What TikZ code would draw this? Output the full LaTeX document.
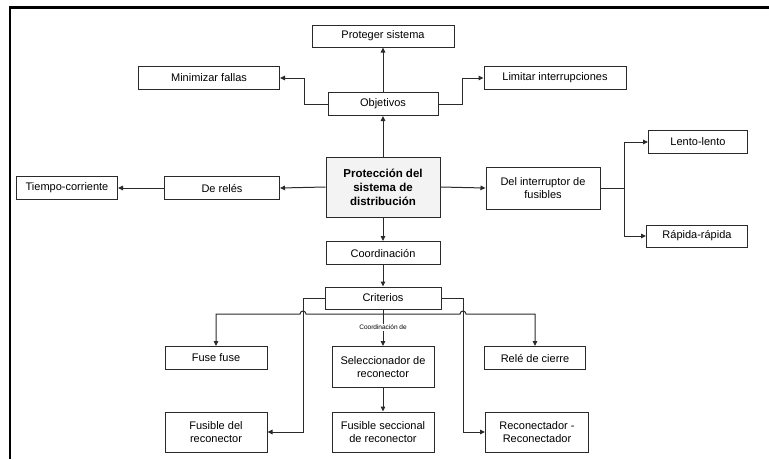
\documentclass[tikz,border=0pt]{standalone}
\usepackage{fontspec}
\setmainfont{Liberation Sans}
\usetikzlibrary{arrows.meta,shadows}
\definecolor{ink}{HTML}{2A2A2A}
\definecolor{mainfill}{HTML}{F3F3F3}
\tikzset{
  box/.style={draw=ink, line width=1pt, fill=white, inner sep=1pt, align=center,
    font=\fontsize{11}{13}\selectfont, text=black,
    drop shadow={shadow xshift=0.7pt, shadow yshift=-0.7pt, fill=gray!55, opacity=1}},
  conn/.style={draw=ink, line width=1pt},
  arr/.style={conn, -{Triangle[length=5pt,width=4.5pt]}},
}
\begin{document}
\begin{tikzpicture}[x=1pt, y=-1pt]
\useasboundingbox (0,0) rectangle (769,459);
% frame
\draw[line width=2.6pt, black] (10,459) -- (10,7.5) -- (769,7.5);

% objectives
\node[box, minimum width=142pt, minimum height=22pt] (prot) at (383,36) {Proteger sistema};
\node[box, minimum width=141pt, minimum height=23pt] (min)  at (209,78) {Minimizar fallas};
\node[box, minimum width=142pt, minimum height=23pt] (lim)  at (555,78) {Limitar interrupciones};
\node[box, minimum width=110pt, minimum height=23pt] (obj)  at (383,104) {Objetivos};

% central node
\node[box, fill=mainfill, minimum width=114pt, minimum height=60pt,
      font=\fontsize{11.5}{14}\selectfont\bfseries] (main) at (383,187)
      {Protección del\\sistema de\\distribución};

% relays side
\node[box, minimum width=115pt, minimum height=23pt] (rel) at (222,188) {De relés};
\node[box, minimum width=101pt, minimum height=23pt] (tc)  at (67,188) {Tiempo-corriente};

% fuse side
\node[box, minimum width=114pt, minimum height=42pt] (dif)   at (543,188) {Del interruptor de\\fusibles};
\node[box, minimum width=99pt,  minimum height=23pt] (lento) at (698,142) {Lento-lento};
\node[box, minimum width=101pt, minimum height=22pt] (rap)   at (697,236) {Rápida-rápida};

% coordination
\node[box, minimum width=114pt, minimum height=23pt] (coord) at (383,253) {Coordinación};
\node[box, minimum width=116pt, minimum height=22pt] (crit)  at (383,298) {Criterios};

\node[box, minimum width=102pt, minimum height=23pt] (fuse) at (216,358) {Fuse fuse};
\node[box, minimum width=102pt, minimum height=41pt] (sel)  at (383,367) {Seleccionador de\\reconector};
\node[box, minimum width=101pt, minimum height=23pt] (rele) at (535,358) {Relé de cierre};
\node[box, minimum width=102pt, minimum height=40pt] (fusr) at (216,432) {Fusible del\\reconector};
\node[box, minimum width=102pt, minimum height=40pt] (fsec) at (383,432) {Fusible seccional\\de reconector};
\node[box, minimum width=103pt, minimum height=40pt] (rr)   at (537,432) {Reconectador -\\Reconectador};

% junction points
\coordinate (oL) at (304,104);
\coordinate (oR) at (462,104);
\coordinate (fj) at (624,188);
\coordinate (bus) at (383,314);
\coordinate (cL) at (303,298);
\coordinate (cR) at (463,298);

% connectors: objectives
\draw[arr] (main.north) -- (obj.south);
\draw[arr] (obj.north) -- (prot.south);
\draw[arr] (obj.west) -- (oL) |- (min.east);
\draw[arr] (obj.east) -- (oR) |- (lim.west);

% connectors: relays and fuses
\draw[arr] (main.west) -- (rel.east);
\draw[arr] (rel.west) -- (tc.east);
\draw[arr] (main.east) -- (dif.west);
\draw[conn] (dif.east) -- (fj);
\draw[arr] (fj) |- (lento.west);
\draw[arr] (fj) |- (rap.west);

% connectors: coordination
\draw[arr] (main.south) -- (coord.north);
\draw[arr] (coord.south) -- (crit.north);
\draw[conn] (crit.south) -- (bus);
\draw[arr] (bus) -- (sel.north)
  node[pos=0.42, fill=white, inner sep=1pt, font=\fontsize{6.5}{7}\selectfont] (cdlab) {Coordinación de};
\draw[arr] (bus) -- (306,314) arc[start angle=0, end angle=180, radius=3pt]
  -- (fuse.north |- bus) -- (fuse.north);
\draw[arr] (bus) -- (460,314) arc[start angle=180, end angle=0, radius=3pt]
  -- (rele.north |- bus) -- (rele.north);
\draw[arr] (crit.west) -- (cL) |- (fusr.east);
\draw[arr] (crit.east) -- (cR) |- (rr.west);
\draw[arr] (sel.south) -- (fsec.north);
\end{tikzpicture}
\end{document}
